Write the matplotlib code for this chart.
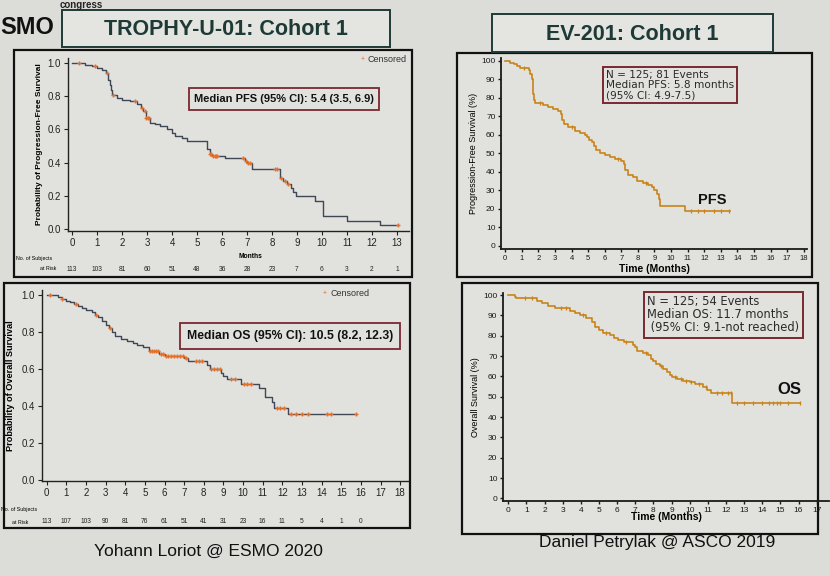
import numpy as np
import matplotlib
matplotlib.use("Agg")
import matplotlib.pyplot as plt
from matplotlib import font_manager
from matplotlib.patches import Rectangle

# %% data
# TROPHY-U-01 PFS (step start times, survival probability)
pfs1_t = [0, 0.5, 0.8, 1.0, 1.2, 1.35, 1.45, 1.5, 1.55, 1.6, 1.8, 2.0, 2.3, 2.6, 2.75, 2.85, 2.95, 3.1, 3.3,
          3.5, 3.8, 4.0, 4.1, 4.4, 4.6, 5.4, 5.5, 5.6, 6.1, 6.9, 7.0, 7.2, 8.3, 8.45, 8.6, 8.75, 8.85, 8.95,
          9.7, 10.05, 11.0, 12.3, 13.05]
pfs1_s = [1.00, 0.99, 0.98, 0.97, 0.96, 0.94, 0.90, 0.87, 0.84, 0.81, 0.79, 0.78, 0.77, 0.75, 0.73, 0.71, 0.67,
          0.64, 0.63, 0.62, 0.60, 0.58, 0.56, 0.55, 0.53, 0.48, 0.45, 0.44, 0.43, 0.41, 0.40, 0.36, 0.31, 0.29,
          0.27, 0.25, 0.22, 0.20, 0.17, 0.08, 0.05, 0.025, 0.025]
pfs1_cens = [0.28, 0.9, 1.4, 1.62, 2.5, 2.8, 2.9, 2.97, 3.02, 3.07, 5.5, 5.55, 5.65, 5.7, 5.75, 5.8, 6.85,
             6.95, 7.05, 7.1, 8.1, 8.2, 8.35, 8.5, 8.65, 13.05]
pfs1_months = list(range(0, 14))
pfs1_risk = [113, 103, 81, 60, 51, 48, 36, 28, 23, 7, 6, 3, 2, 1]

# TROPHY-U-01 OS
os1_t = [0, 0.6, 0.8, 1.0, 1.2, 1.4, 1.6, 1.8, 2.0, 2.3, 2.45, 2.6, 2.8, 3.0, 3.15, 3.3, 3.5, 3.8, 4.1, 4.4,
         4.6, 4.9, 5.2, 5.7, 6.0, 7.0, 7.2, 8.15, 8.3, 8.9, 9.0, 9.2, 9.9, 10.8, 11.1, 11.45, 11.6, 12.3, 15.75]
os1_s = [1.00, 0.99, 0.98, 0.97, 0.96, 0.95, 0.94, 0.93, 0.92, 0.91, 0.89, 0.88, 0.86, 0.84, 0.82, 0.80, 0.78,
         0.76, 0.75, 0.74, 0.73, 0.72, 0.70, 0.68, 0.67, 0.66, 0.645, 0.62, 0.60, 0.58, 0.565, 0.545, 0.52,
         0.50, 0.45, 0.42, 0.39, 0.357, 0.357]
os1_cens = [0.17, 0.8, 1.5, 2.5, 3.2, 5.25, 5.35, 5.45, 5.55, 5.65, 5.8, 5.9, 6.05, 6.2, 6.35, 6.5, 6.65, 6.8,
            6.95, 7.1, 7.6, 7.75, 7.9, 8.35, 8.5, 8.65, 8.8, 9.4, 9.6, 10.05, 10.2, 10.4, 11.75, 11.9, 12.1,
            12.45, 12.7, 13.0, 13.3, 14.3, 14.5, 15.75]
os1_months = list(range(0, 17))
os1_risk = [113, 107, 103, 90, 81, 76, 61, 51, 41, 31, 23, 16, 11, 5, 4, 1, 0]

# EV-201 PFS (%)
pfs2_t = [0, 0.3, 0.5, 0.7, 0.9, 1.4, 1.5, 1.6, 1.65, 1.7, 1.75, 1.8, 2.3, 2.6, 2.9, 3.2, 3.35, 3.45, 3.55,
          3.8, 4.2, 4.5, 4.8, 4.95, 5.05, 5.2, 5.35, 5.5, 5.7, 6.0, 6.3, 6.6, 7.0, 7.15, 7.25, 7.4, 7.7, 7.95,
          8.3, 8.6, 8.85, 9.0, 9.15, 9.25, 9.35, 10.85, 13.55]
pfs2_s = [100, 99, 98, 97, 96, 95, 93, 90, 86, 82, 79, 77, 76, 75, 74, 73, 71, 68, 66, 64, 62, 61, 60, 59, 57,
          56, 54, 52, 50, 49, 48, 47, 46, 44, 41, 38, 37, 35, 34, 33, 32, 30, 28, 25, 21.5, 19, 19]
pfs2_cens = [1.1, 2.1, 4.0, 6.8, 8.5, 11.2, 11.6, 12.0, 12.6, 13.0, 13.5]

# EV-201 OS (%)
os2_t = [0, 0.35, 0.45, 1.6, 1.85, 2.2, 2.6, 3.4, 3.7, 3.95, 4.3, 4.6, 4.8, 5.0, 5.2, 5.6, 5.85, 6.05, 6.4,
         6.9, 7.0, 7.1, 7.4, 7.7, 7.85, 8.0, 8.15, 8.35, 8.55, 8.75, 8.9, 9.05, 9.3, 9.65, 10.0, 10.3, 10.75,
         10.95, 11.2, 12.35, 16.1]
os2_s = [100, 99, 98.4, 97.2, 96, 94.6, 93.4, 92.2, 91, 90, 88.5, 86.5, 84.5, 82.8, 81.5, 80.2, 79, 77.9, 76.7,
         75.5, 74.3, 72.7, 71.5, 70.3, 68.7, 67.5, 66.3, 64.9, 63.6, 62.1, 60.8, 59.6, 58.7, 57.8, 57.0, 56.1,
         55.0, 53.4, 51.6, 46.8, 46.8]
os2_cens = [0.9, 1.3, 2.9, 3.2, 4.1, 5.4, 6.5, 7.6, 8.4, 9.2, 9.5, 9.8, 10.1, 10.5, 10.9, 11.5, 11.8, 12.1,
            12.3, 12.6, 13.0, 13.5, 14.0, 14.4, 14.6, 14.8, 15.0, 15.4, 16.1]

# %% look
W, H = 830, 576
BG = "#dcdcd8"
PANEL = "#e1e1dd"
NAVY = "#3f4757"
ORANGE = "#e2702a"
GOLD = "#c8841b"
BOXRED = "#7a2730"
TEAL = "#1e3a37"


def pick_font(names):
    for n in names:
        try:
            font_manager.findfont(n, fallback_to_default=False)
            return n
        except Exception:
            pass
    return "DejaVu Sans"


NARROW = pick_font(["Liberation Sans Narrow", "Liberation Sans"])
ARIAL = pick_font(["Liberation Sans", "DejaVu Sans"])
WIDE = "DejaVu Sans"
plt.rcParams["font.family"] = ARIAL


def fbox(x0, y0, x1, y1):
    return [x0 / W, 1 - y1 / H, (x1 - x0) / W, (y1 - y0) / H]


def fxy(x, y):
    return x / W, 1 - y / H


def surv_at(t, s, times):
    idx = np.searchsorted(t, times, side="right") - 1
    return np.asarray(s)[idx]


fig = plt.figure(figsize=(W / 100, H / 100), dpi=100, facecolor=BG)

# panel frames (behind the axes)
for x0, y0, x1, y1 in [(14, 50, 412, 277), (4, 283, 410, 528), (457, 53, 812, 277), (462, 283, 818, 534)]:
    fig.patches.append(Rectangle(fxy(x0, y1), (x1 - x0) / W, (y1 - y0) / H, transform=fig.transFigure,
                                 facecolor=PANEL, edgecolor="#111111", lw=1.6, zorder=-5))

# title boxes
for (x0, y0, x1, y1), label in [((62, 10, 390, 47), "TROPHY-U-01: Cohort 1"), ((492, 14, 773, 52), "EV-201: Cohort 1")]:
    fig.patches.append(Rectangle(fxy(x0, y1), (x1 - x0) / W, (y1 - y0) / H, transform=fig.transFigure,
                                 facecolor="#e4e4e0", edgecolor=TEAL, lw=1.4, zorder=-5))
    fig.text(*fxy((x0 + x1) / 2, (y0 + y1) / 2 + 1), label, ha="center", va="center", fontsize=15.5,
             family=NARROW, color=TEAL, weight="bold")

# ESMO logo fragment (the photo cuts off its left part)
fig.text(*fxy(0, 27), "SMO", ha="left", va="center", fontsize=17, weight="bold", family=NARROW, color="#111111")
fig.text(*fxy(60, 5), "congress", ha="left", va="center", fontsize=7, weight="bold", family=NARROW, color="#222222")

# captions
fig.text(*fxy(208, 551), "Yohann Loriot @ ESMO 2020", ha="center", va="center", fontsize=12.5, family=NARROW, color="#111111")
fig.text(*fxy(657, 543), "Daniel Petrylak @ ASCO 2019", ha="center", va="center", fontsize=12.5, family=NARROW, color="#111111")


def left_style(ax):
    ax.set_facecolor("none")
    for sp in ["top", "right"]:
        ax.spines[sp].set_visible(False)
    for sp in ["left", "bottom"]:
        ax.spines[sp].set_color("#222222")
        ax.spines[sp].set_linewidth(1.0)
    ax.tick_params(direction="out", length=3, width=0.8, labelsize=7, colors="#222222", pad=2)
    ax.set_yticks([0, 0.2, 0.4, 0.6, 0.8, 1.0])
    ax.set_yticklabels(["0.0", "0.2", "0.4", "0.6", "0.8", "1.0"], family=NARROW)


# %% TROPHY-U-01 PFS
ax1 = fig.add_axes(fbox(68, 58, 409, 231))
left_style(ax1)
ax1.step(pfs1_t, pfs1_s, where="post", color=NAVY, lw=1.0)
ax1.plot(pfs1_cens, surv_at(pfs1_t, pfs1_s, pfs1_cens), "+", color=ORANGE, ms=3.5, mew=1.0)
ax1.set_xlim(-0.16, 13.48)
ax1.set_ylim(-0.012, 1.03)
ax1.set_xticks(pfs1_months)
ax1.set_xticklabels([str(m) for m in pfs1_months], family=NARROW)
ax1.set_ylabel("Probability of Progression-Free Survival", fontsize=6, weight="bold", family=NARROW, labelpad=3)
for m, n in zip(pfs1_months, pfs1_risk):
    ax1.annotate(str(n), xy=(m, 0), xycoords=("data", "axes fraction"), xytext=(0, -27.5), textcoords="offset points",
                 fontsize=4.8, ha="center", va="center", family=NARROW, color="#222222")
fig.text(*fxy(250, 257), "Months", ha="center", va="center", fontsize=4.8, weight="bold", family=NARROW)
fig.text(*fxy(16, 258), "No. of Subjects", ha="left", va="center", fontsize=3.8, family=NARROW)
fig.text(*fxy(40, 268), "at Risk", ha="left", va="center", fontsize=3.8, family=NARROW)
fig.text(*fxy(368, 60), "Censored", ha="left", va="center", fontsize=6.5, family=ARIAL, color="#333333")
fig.text(*fxy(363, 60), "+", ha="center", va="center", fontsize=5, color=ORANGE)
fig.text(*fxy(284, 99), "Median PFS (95% CI): 5.4 (3.5, 6.9)", ha="center", va="center", fontsize=8.0, weight="bold",
         family=ARIAL, color="#111111",
         bbox=dict(boxstyle="square,pad=0.5", facecolor=PANEL, edgecolor=BOXRED, lw=1.3))

# %% TROPHY-U-01 OS
ax2 = fig.add_axes(fbox(42, 290, 408, 481))
left_style(ax2)
ax2.step(os1_t, os1_s, where="post", color=NAVY, lw=1.0)
ax2.plot(os1_cens, surv_at(os1_t, os1_s, os1_cens), "+", color=ORANGE, ms=3.5, mew=1.0)
ax2.set_xlim(-0.24, 18.4)
ax2.set_ylim(-0.005, 1.027)
ax2.set_xticks(range(0, 19))
ax2.set_xticklabels([str(m) for m in range(0, 19)], family=NARROW)
ax2.set_ylabel("Probability of Overall Survival", fontsize=6.6, weight="bold", family=NARROW, labelpad=5)
for m, n in zip(os1_months, os1_risk):
    ax2.annotate(str(n), xy=(m, 0), xycoords=("data", "axes fraction"), xytext=(0, -29.5), textcoords="offset points",
                 fontsize=4.8, ha="center", va="center", family=NARROW, color="#222222")
fig.text(*fxy(1, 510), "No. of Subjects", ha="left", va="center", fontsize=3.8, family=NARROW)
fig.text(*fxy(12, 522), "at Risk", ha="left", va="center", fontsize=3.8, family=NARROW)
fig.text(*fxy(330, 293), "Censored", ha="left", va="center", fontsize=6.5, family=ARIAL, color="#333333")
fig.text(*fxy(325, 293), "+", ha="center", va="center", fontsize=5, color=ORANGE)
fig.text(*fxy(290, 336), "Median OS (95% CI): 10.5 (8.2, 12.3)", ha="center", va="center", fontsize=8.8, weight="bold",
         family=ARIAL, color="#111111",
         bbox=dict(boxstyle="square,pad=0.55", facecolor=PANEL, edgecolor=BOXRED, lw=1.3))


def right_style(ax):
    ax.set_facecolor("none")
    for sp in ["top", "right"]:
        ax.spines[sp].set_visible(False)
    for sp in ["left", "bottom"]:
        ax.spines[sp].set_color("#1a1a1a")
        ax.spines[sp].set_linewidth(1.3)
    ax.tick_params(direction="out", length=2.5, width=1.0, labelsize=6, colors="#1a1a1a", pad=1.5)
    ax.set_yticks(range(0, 101, 10))
    ax.set_xticks(range(0, 19))


# %% EV-201 PFS
ax3 = fig.add_axes(fbox(501, 58, 807, 249))
right_style(ax3)
ax3.step(pfs2_t, pfs2_s, where="post", color=GOLD, lw=1.2)
ax3.plot(pfs2_cens, surv_at(pfs2_t, pfs2_s, pfs2_cens), "|", color=GOLD, ms=3, mew=0.9)
ax3.set_xlim(-0.26, 18.2)
ax3.set_ylim(-1.8, 101.5)
ax3.tick_params(axis="x", labelsize=5.5)
ax3.set_ylabel("Progression-Free Survival (%)", fontsize=6.5, labelpad=2)
ax3.set_xlabel("Time (Months)", fontsize=7.5, weight="bold", labelpad=1.5)
ax3.text(12.5, 24.5, "PFS", fontsize=10.5, weight="bold", ha="center", va="center", color="#111111")
fig.text(*fxy(606, 85), "N = 125; 81 Events\nMedian PFS: 5.8 months\n(95% CI: 4.9-7.5)", ha="left", va="center",
         fontsize=7.6, family=WIDE, color="#2a2a2a", linespacing=1.0,
         bbox=dict(boxstyle="square,pad=0.3", facecolor=PANEL, edgecolor=BOXRED, lw=1.4))

# %% EV-201 OS
ax4 = fig.add_axes(fbox(503, 293, 829, 501))
right_style(ax4)
ax4.step(os2_t, os2_s, where="post", color=GOLD, lw=1.2)
ax4.plot(os2_cens, surv_at(os2_t, os2_s, os2_cens), "|", color=GOLD, ms=3, mew=0.9)
ax4.set_xticks(range(0, 18))
ax4.set_xlim(-0.29, 17.68)
ax4.set_ylim(-1.3, 101)
ax4.tick_params(axis="x", labelsize=6)
ax4.set_ylabel("Overall Survival (%)", fontsize=6.5, labelpad=2)
ax4.set_xlabel("Time (Months)", fontsize=7.5, weight="bold", labelpad=-1)
ax4.text(15.5, 53.5, "OS", fontsize=12, weight="bold", ha="center", va="center", color="#111111")
fig.text(*fxy(647, 315), "N = 125; 54 Events\nMedian OS: 11.7 months\n (95% CI: 9.1-not reached)", ha="left", va="center",
         fontsize=8.3, family=WIDE, color="#2a2a2a", linespacing=1.0,
         bbox=dict(boxstyle="square,pad=0.3", facecolor=PANEL, edgecolor=BOXRED, lw=1.4))

plt.savefig("out.png", dpi=100, facecolor=BG)
